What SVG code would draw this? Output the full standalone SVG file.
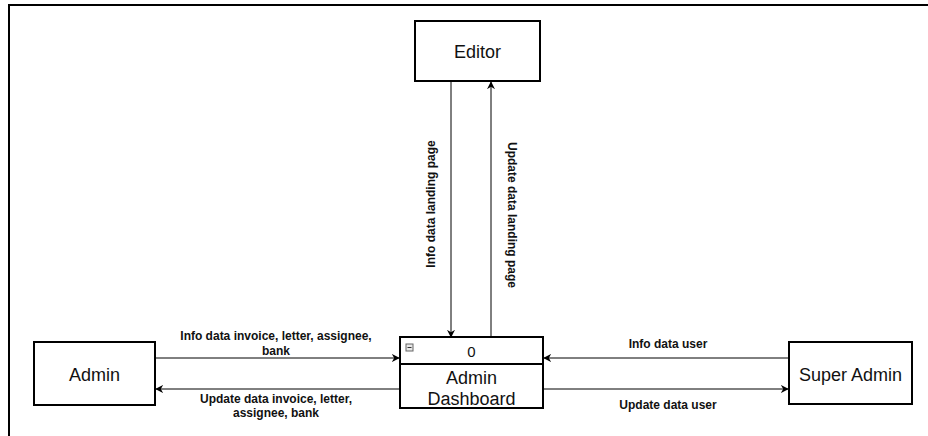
<svg xmlns="http://www.w3.org/2000/svg" width="928" height="436" viewBox="0 0 928 436">
<defs>
<marker id="arr" viewBox="0 0 10 10" refX="9" refY="5" markerWidth="8" markerHeight="8" markerUnits="userSpaceOnUse" orient="auto">
<path d="M0,0 L10,5 L0,10 L3,5 Z" fill="#000"/>
</marker>
<style>
.box{fill:#fff;stroke:#000;stroke-width:2}
.nt{font-family:"Liberation Sans",Arial,sans-serif;font-size:18px;fill:#111;text-anchor:middle}
.lb{font-family:"Liberation Sans",Arial,sans-serif;font-size:12px;font-weight:bold;fill:#111;text-anchor:middle}
.ln{fill:none;stroke:#000;stroke-width:1;marker-end:url(#arr)}
</style>
</defs>
<rect width="928" height="436" fill="#fff"/>
<g id="frame">
<path d="M9,436 L9,5 L928,5" fill="none" stroke="#000" stroke-width="2"/>
</g>
<g id="editor">
<rect class="box" x="415" y="21" width="125" height="60"/>
<text class="nt" x="477.5" y="58">Editor</text>
</g>
<g id="admin">
<rect class="box" x="34" y="342" width="121" height="63"/>
<text class="nt" x="94.5" y="381">Admin</text>
</g>
<g id="superadmin">
<rect class="box" x="789" y="342" width="123" height="62"/>
<text class="nt" x="850.5" y="381">Super Admin</text>
</g>
<g id="dashboard">
<rect class="box" x="400" y="337" width="143" height="71"/>
<line x1="400" y1="364" x2="543" y2="364" stroke="#000" stroke-width="2"/>
<rect x="406" y="344" width="7" height="7" fill="#e8e8e8" stroke="#666" stroke-width="1"/>
<line x1="407.5" y1="347.5" x2="411.5" y2="347.5" stroke="#333" stroke-width="1"/>
<text class="nt" x="471.5" y="357" style="font-size:15px">0</text>
<text class="nt" x="471.5" y="384">Admin</text>
<text class="nt" x="471.5" y="405">Dashboard</text>
</g>
<g id="connectors">
<line class="ln" x1="451" y1="81" x2="451" y2="337"/>
<line class="ln" x1="491" y1="337" x2="491" y2="82"/>
<line class="ln" x1="155" y1="358" x2="399" y2="358"/>
<line class="ln" x1="400" y1="389" x2="156" y2="389"/>
<line class="ln" x1="789" y1="358" x2="544" y2="358"/>
<line class="ln" x1="543" y1="389" x2="788" y2="389"/>
<text class="lb" transform="translate(434.5,204) rotate(-90)">Info data landing page</text>
<text class="lb" transform="translate(508,215) rotate(90)">Update data landing page</text>
<text class="lb" x="276" y="340">Info data invoice, letter, assignee,</text>
<text class="lb" x="276" y="355">bank</text>
<text class="lb" x="276" y="403">Update data invoice, letter,</text>
<text class="lb" x="276" y="417">assignee, bank</text>
<text class="lb" x="668" y="348">Info data user</text>
<text class="lb" x="668" y="409">Update data user</text>
</g>
</svg>
